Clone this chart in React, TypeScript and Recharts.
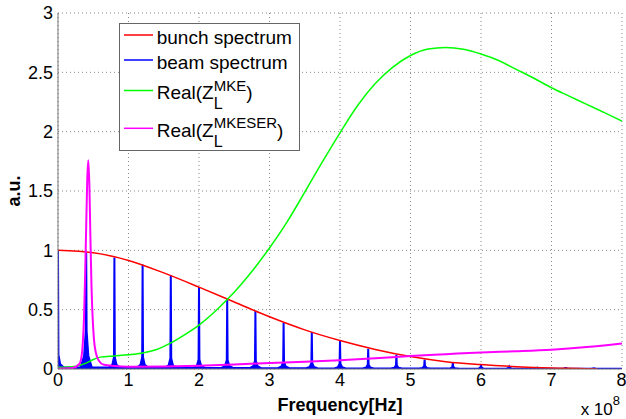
import { ComposedChart, Line, Area, XAxis, YAxis, CartesianGrid, Legend } from 'recharts';

const font = '"Liberation Sans", Arial, sans-serif';

// axis ticks (frequency in units of 1e8 Hz)
const xTicks = [0, 1, 2, 3, 4, 5, 6, 7, 8];
const yTicks = [0, 0.5, 1, 1.5, 2, 2.5, 3];

// bunch spectrum envelope
const bunchFreq = [0, 0.5, 1, 1.5, 2, 2.5, 3, 3.5, 4, 4.5, 5, 5.5, 6, 6.5, 7, 7.5, 7.65];
const bunchAmp = [1.0, 0.98, 0.915, 0.81, 0.69, 0.565, 0.44, 0.33, 0.24, 0.165, 0.105, 0.062, 0.037, 0.02, 0.009, 0.003, 0.0];

// beam spectrum lines (harmonics of 40 MHz)
const beamFreq = [0, 0.4, 0.8, 1.2, 1.6, 2.0, 2.4, 2.8, 3.2, 3.6, 4.0, 4.4, 4.8, 5.2, 5.6, 6.0, 6.4, 6.8, 7.2, 7.6];
const beamPeak = [1.0, 0.98, 0.94, 0.88, 0.79, 0.69, 0.59, 0.49, 0.39, 0.31, 0.24, 0.17, 0.12, 0.08, 0.052, 0.035, 0.02, 0.012, 0.007, 0.004];
const beamSkirt = [0.12, 0.32, 0.1, 0.1, 0.09, 0.08, 0.075, 0.07, 0.06, 0.05, 0.045, 0.035, 0.03, 0.025, 0.02, 0.015, 0.012, 0.01, 0.008, 0.006];
const beamNoise = [0.012, 0.012, 0.012, 0.012, 0.011, 0.01, 0.009, 0.008, 0.007, 0.006, 0.005, 0.005, 0.004, 0.004, 0.004, 0.003, 0.003, 0.003, 0.003, 0.003];

// Real(Z_L^MKE)
const mkeFreq = [0, 0.2, 0.3, 0.4, 0.5, 0.6, 0.8, 1.0, 1.2, 1.4, 1.6, 1.8, 2.0, 2.2, 2.4, 2.6, 2.8, 3.0, 3.25, 3.5, 3.75, 4.0, 4.25, 4.5, 4.75, 5.0, 5.25, 5.5, 5.75, 6.0, 6.25, 6.5, 6.75, 7.0, 7.25, 7.5, 7.75, 8.0];
const mkeRe = [0.015, 0.02, 0.03, 0.05, 0.08, 0.1, 0.11, 0.12, 0.135, 0.165, 0.22, 0.29, 0.37, 0.47, 0.585, 0.715, 0.86, 1.02, 1.24, 1.49, 1.745, 1.99, 2.22, 2.405, 2.544, 2.642, 2.696, 2.71, 2.695, 2.655, 2.6, 2.525, 2.45, 2.37, 2.3, 2.23, 2.16, 2.09];

// Real(Z_L^MKESER)
const serFreq = [0, 0.2, 0.3, 0.33, 0.35, 0.37, 0.385, 0.4, 0.415, 0.43, 0.445, 0.46, 0.475, 0.49, 0.51, 0.54, 0.58, 0.65, 0.8, 1.0, 1.5, 2.0, 2.5, 3.0, 3.5, 4.0, 4.5, 5.0, 5.5, 6.0, 6.5, 7.0, 7.5, 8.0];
const serRe = [0.003, 0.008, 0.04, 0.09, 0.2, 0.45, 0.8, 1.2, 1.6, 1.76, 1.55, 1.1, 0.7, 0.45, 0.25, 0.13, 0.07, 0.035, 0.025, 0.02, 0.022, 0.028, 0.038, 0.05, 0.062, 0.074, 0.09, 0.11, 0.125, 0.14, 0.15, 0.163, 0.185, 0.215];

const toRows = (xs: number[], ys: number[]) => xs.map((x, i) => ({ x, y: ys[i] }));

const bunchRows = toRows(bunchFreq, bunchAmp);
const mkeRows = toRows(mkeFreq, mkeRe);
const serRows = toRows(serFreq, serRe);

// each harmonic: narrow line with a small skirt at its foot
const beamRows: { x: number; y: number }[] = [];
beamFreq.forEach((f, i) => {
  const p = beamPeak[i];
  const s = beamSkirt[i];
  const n = beamNoise[i];
  if (f > 0) {
    beamRows.push({ x: f - 0.08, y: n }, { x: f - 0.03, y: s * 0.35 }, { x: f - 0.006, y: s });
  } else {
    beamRows.push({ x: 0, y: 0 });
  }
  beamRows.push({ x: f, y: p });
  beamRows.push({ x: f + 0.006, y: s }, { x: f + 0.03, y: s * 0.35 }, { x: f + 0.08, y: n });
});
beamRows.push({ x: 8, y: 0.003 });

const legendItems = [
  { name: 'bunch spectrum', color: '#ff0000' },
  { name: 'beam spectrum', color: '#0000ff' },
  { name: 'Real(Z', sup: 'MKE', color: '#00ff00' },
  { name: 'Real(Z', sup: 'MKESER', color: '#ff00ff' },
];
const rowCenters = [12, 37, 67.5, 105.3];

const renderLegend = () => (
  <svg width={181} height={128} style={{ display: 'block' }}>
    <rect x={0.5} y={0.5} width={180} height={127} fill="#fff" stroke="#666" />
    {legendItems.map((item, i) => {
      const cy = rowCenters[i];
      return (
        <g key={item.name + i}>
          <line x1={5} x2={34} y1={cy} y2={cy} stroke={item.color} strokeWidth={1.5} />
          <text x={37.7} y={cy + 8.5} fontFamily={font} fontSize={19} fill="#000">
            {item.name}
            {item.sup && (
              <>
                <tspan dy={10} fontSize={16}>L</tspan>
                <tspan dx={-8.9} dy={-18.5} fontSize={15}>{item.sup}</tspan>
                <tspan dy={8.5}>)</tspan>
              </>
            )}
          </text>
        </g>
      );
    })}
  </svg>
);

const renderXLabel = (props: any) => {
  const vb = props.viewBox;
  return (
    <g>
      <text x={vb.x + vb.width / 2} y={vb.y + 41.5} textAnchor="middle" fontFamily={font} fontSize={18} fontWeight="bold" fill="#000">
        Frequency[Hz]
      </text>
      <text x={vb.x + vb.width - 2} y={vb.y + 46} textAnchor="end" fontFamily={font} fontSize={17} fill="#000">
        x 10<tspan dy={-10} fontSize={13}>8</tspan>
      </text>
    </g>
  );
};

const renderYLabel = (props: any) => {
  const vb = props.viewBox;
  const cy = vb.y + vb.height / 2;
  return (
    <text x={20} y={cy} transform={`rotate(-90, 20, ${cy})`} textAnchor="middle" fontFamily={font} fontSize={18} fontWeight="bold" fill="#000">
      a.u.
    </text>
  );
};

const tickStyle = { fill: '#000', fontSize: 18, fontFamily: font };
const frame = { stroke: '#777' };

const App = () => {
  return (
    <div style={{ position: 'absolute', left: 0, top: 0 }}>
      <ComposedChart width={626} height={419} margin={{ top: 13, right: 4, bottom: 20, left: 0 }}>
        <CartesianGrid stroke="#888" strokeDasharray="1 3" />
        <XAxis
          dataKey="x"
          type="number"
          domain={[0, 8]}
          ticks={xTicks}
          allowDataOverflow
          height={30}
          tickSize={2}
          tickMargin={2.5}
          tickLine={false}
          axisLine={frame}
          tick={tickStyle}
          label={{ content: renderXLabel }}
        />
        <XAxis xAxisId="top" orientation="top" mirror type="number" domain={[0, 8]} ticks={xTicks} allowDataOverflow height={0} tick={false} tickSize={5} tickLine={frame} axisLine={frame} />
        <XAxis xAxisId="bot" orientation="bottom" mirror type="number" domain={[0, 8]} ticks={xTicks} allowDataOverflow height={0} tick={false} tickSize={5} tickLine={frame} axisLine={frame} />
        <YAxis
          type="number"
          domain={[0, 3]}
          ticks={yTicks}
          allowDataOverflow
          width={58}
          tickSize={3}
          tickMargin={2}
          tickLine={false}
          axisLine={frame}
          tick={tickStyle}
          label={{ content: renderYLabel }}
        />
        <YAxis yAxisId="l" orientation="left" mirror type="number" domain={[0, 3]} ticks={yTicks} allowDataOverflow width={0} tick={false} tickSize={5} tickLine={frame} axisLine={frame} />
        <YAxis yAxisId="r" orientation="right" mirror type="number" domain={[0, 3]} ticks={yTicks} allowDataOverflow width={0} tick={false} tickSize={5} tickLine={frame} axisLine={frame} />
        <Line data={bunchRows} dataKey="y" type="monotone" stroke="#ff0000" strokeWidth={1.5} dot={false} isAnimationActive={false} />
        <Area data={beamRows} dataKey="y" type="linear" stroke="#0000ff" strokeWidth={2} fill="#0000ff" fillOpacity={1} dot={false} isAnimationActive={false} />
        <Line data={mkeRows} dataKey="y" type="monotone" stroke="#00ff00" strokeWidth={1.5} dot={false} isAnimationActive={false} />
        <Line data={serRows} dataKey="y" type="monotone" stroke="#ff00ff" strokeWidth={2} dot={false} isAnimationActive={false} />
        <Legend layout="vertical" align="center" verticalAlign="middle" wrapperStyle={{ left: 119, top: 23, width: 181, height: 128 }} content={renderLegend} />
      </ComposedChart>
    </div>
  );
};

export default App;
